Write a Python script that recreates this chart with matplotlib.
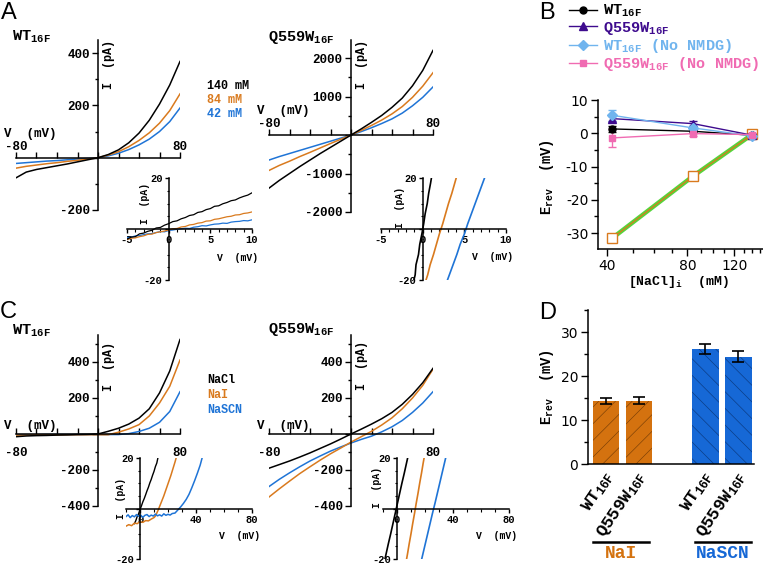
import matplotlib
matplotlib.use('Agg')
import matplotlib.pyplot as plt
from matplotlib.lines import Line2D
from matplotlib.ticker import MultipleLocator, FixedLocator, NullFormatter

W, H = 763, 564

plt.rcParams.update({
    'font.family': 'Liberation Mono',
    'font.weight': 'bold',
    'mathtext.fontset': 'custom',
    'mathtext.rm': 'Liberation Mono:bold',
    'mathtext.it': 'Liberation Mono:bold',
    'mathtext.bf': 'Liberation Mono:bold',
    'axes.unicode_minus': False,
    'axes.linewidth': 1.1,
    'hatch.linewidth': 0.45,
})

BLACK = '#000000'
ORANGE = '#D97A1E'
BLUE = '#1F74D6'
BAR_ORANGE = '#D4720F'
BAR_BLUE = '#1668D6'
PURPLE = '#3E0B8E'
LIGHTBLUE = '#70B4EE'
PINK = '#F06BB2'
GREEN = '#55D43B'

# ramp I-V curves (pA), read every 10 mV
volt = [-80, -70, -60, -50, -40, -30, -20, -10, 0, 10, 20, 30, 40, 50, 60, 70, 80]

wt_140 = [-77, -55, -45, -38, -31, -24, -16, -8, 0, 12, 30, 57, 94, 143, 205, 278, 368]
wt_84 = [-40, -33, -28, -23, -19, -14, -10, -5, 0, 10, 23, 42, 66, 95, 132, 180, 244]
wt_42 = [-22, -19, -16, -13, -11, -8, -5, -3, 0, 7, 17, 31, 49, 71, 100, 138, 190]

q_140 = [-1380, -1180, -1000, -820, -650, -480, -320, -160, 0, 160, 330, 510, 720, 960, 1280, 1680, 2200]
q_84 = [-920, -790, -680, -560, -450, -335, -220, -110, 0, 120, 250, 390, 550, 740, 980, 1270, 1620]
q_42 = [-650, -560, -480, -400, -320, -240, -160, -80, 0, 90, 190, 300, 420, 570, 760, 980, 1250]

wt_nacl = [-15, -11, -9, -8, -6, -5, -3, -2, 0, 15, 32, 55, 88, 140, 228, 350, 525]
wt_nai = [-6, -6, -5, -5, -5, -4, -4, -4, -4, -4, 10, 28, 52, 100, 172, 265, 411]
wt_nascn = [-4, -4, -4, -3, -3, -3, -3, -3, -3, -3, -3, 2, 14, 32, 65, 125, 235]

q_nacl = [-190, -170, -150, -128, -105, -80, -55, -28, 0, 27, 55, 85, 120, 165, 220, 285, 365]
q_nai = [-350, -305, -262, -220, -182, -145, -110, -78, -45, -15, 15, 50, 90, 140, 200, 270, 360]
q_nascn = [-292, -252, -216, -182, -150, -122, -95, -72, -50, -30, -12, 12, 40, 75, 120, 172, 235]

# inset A, WT: noisy traces every 0.5 mV
ins_v = [-5, -4.5, -4, -3.5, -3, -2.5, -2, -1.5, -1, -0.5, 0, 0.5, 1, 1.5, 2, 2.5,
         3, 3.5, 4, 4.5, 5, 5.5, 6, 6.5, 7, 7.5, 8, 8.5, 9, 9.5, 10]
ins_wt_140 = [-4.0, -3.2, -3.0, -1.9, -1.6, -0.9, -0.5, 0.4, 0.6, 1.5, 2.1, 2.9, 3.2, 4.0, 4.5, 5.3,
              5.6, 6.5, 6.8, 7.6, 8.0, 8.9, 9.1, 9.9, 10.4, 11.1, 11.4, 12.2, 12.8, 13.3, 14.2]
ins_wt_84 = [-4.2, -3.6, -3.5, -3.0, -2.7, -2.1, -2.0, -1.4, -1.1, -0.8, -0.4, 0.1, 0.2, 0.8, 1.0, 1.6,
             1.8, 2.3, 2.5, 3.1, 3.2, 3.8, 4.0, 4.4, 4.8, 5.0, 5.5, 5.6, 6.1, 6.3, 6.7]
ins_wt_42 = [-3.4, -3.2, -2.7, -2.6, -2.2, -1.9, -1.8, -1.4, -1.0, -1.1, -0.6, -0.4, -0.1, 0.1, 0.3, 0.2,
             0.7, 0.9, 1.3, 1.2, 1.6, 1.9, 2.0, 2.3, 2.2, 2.7, 2.9, 3.0, 3.3, 3.2, 3.6]

# inset A, Q559W: steep traces, voltage read at fixed currents
steep_i = [-22, -18, -14, -10, -6, -2, 2, 6, 10, 14, 18, 22]
ins_q_140 = [-1.2, -0.9, -0.8, -0.5, -0.35, -0.1, 0.12, 0.3, 0.55, 0.72, 0.95, 1.15]
ins_q_84 = [0.2, 0.6, 0.9, 1.3, 1.65, 2.0, 2.4, 2.75, 3.1, 3.5, 3.85, 4.2]
ins_q_42 = [2.75, 3.2, 3.65, 4.1, 4.5, 5.0, 5.4, 5.85, 6.3, 6.75, 7.2, 7.65]

# inset C, WT
insc_nacl_v = [-4, -3, -2, -1, 0, 1, 2, 3, 4, 5, 6, 7, 8, 9, 10, 11, 12, 13]
insc_nacl_i = [-6.0, -4.8, -3.2, -2.1, -0.4, 1.0, 2.6, 3.9, 5.4, 7.0, 8.4, 10.1, 11.5, 13.2, 14.7, 16.6, 18.0, 20.6]
insc_nai_v = [-10, -8, -6, -4, -2, 0, 2, 4, 6, 8, 10, 11, 12, 13, 14, 15, 16, 17, 18,
              19, 20, 21, 22, 23, 24, 25, 26]
insc_nai_i = [-7.0, -6.4, -6.8, -5.8, -6.0, -5.2, -5.5, -4.8, -4.9, -4.2, -3.6, -3.0, -1.8, -0.6, 0.8,
              2.2, 3.6, 5.0, 6.6, 8.2, 9.8, 11.4, 13.0, 14.8, 16.6, 18.4, 20.4]
insc_nascn_v = [-10, -8.5, -7, -5.5, -4, -2.5, -1, 0.5, 2, 3.5, 5, 6.5, 8, 9.5, 11, 12.5, 14, 15.5, 17,
                18.5, 20, 21.5, 23, 25, 27, 29, 31, 33, 35, 37, 39, 41, 43, 44.5]
insc_nascn_i = [-3.2, -2.5, -3.6, -2.8, -3.3, -2.4, -3.1, -2.6, -3.5, -2.7, -2.4, -3.2, -2.6, -3.0, -2.2,
                -2.9, -2.5, -3.0, -2.1, -2.7, -2.3, -2.6, -2.0, -1.8, -0.6, 0.6, 2.0, 3.6, 5.6, 8.2,
                11.0, 14.0, 17.2, 20.3]

# inset C, Q559W
insc_q_nacl = [-9.4, -7.8, -6.2, -4.5, -2.9, -1.3, 0.3, 1.9, 3.5, 5.2, 6.8, 8.4]
insc_q_nai = [6.2, 7.5, 8.7, 10.0, 11.2, 12.5, 13.7, 15.0, 16.2, 17.5, 18.7, 20.0]
insc_q_nascn = [16.8, 18.5, 20.2, 21.9, 23.6, 25.3, 27.1, 28.8, 30.5, 32.2, 33.9, 35.6]

# B: reversal potential vs internal NaCl
conc = [42, 84, 140]
erev_wt = [1.3, 0.6, -0.6]
erev_wt_err = [0.9, 0.5, 0.4]
erev_q = [4.4, 2.9, -0.6]
erev_q_err = [0.8, 0.7, 0.4]
erev_wt_nonmdg = [5.4, 1.6, -0.8]
erev_wt_nonmdg_err = [1.7, 0.9, 0.4]
erev_q_nonmdg = [-1.4, -0.1, -0.4]
erev_q_nonmdg_err = [2.7, 0.8, 0.4]
erev_nernst = [-31.5, -12.9, -0.3]

# D: reversal potential, NaI / NaSCN
bar_labels = ['WT$_{16F}$', 'Q559W$_{16F}$', 'WT$_{16F}$', 'Q559W$_{16F}$']
bar_vals = [14.3, 14.4, 26.1, 24.4]
bar_errs = [0.65, 0.85, 1.1, 1.25]

fig = plt.figure(figsize=(W / 100, H / 100), dpi=100)


def px_axes(left, top, right, bottom):
    return fig.add_axes([left / W, 1 - bottom / H, (right - left) / W, (bottom - top) / H])


def fig_text(x, y, s, **kw):
    return fig.text(x / W, 1 - y / H, s, **kw)


def cross(ax, xlim, ylim):
    ax.set_xlim(*xlim)
    ax.set_ylim(*ylim)
    ax.patch.set_visible(False)
    ax.spines['top'].set_visible(False)
    ax.spines['right'].set_visible(False)
    ax.spines['left'].set_position(('data', 0))
    ax.spines['bottom'].set_position(('data', 0))


def iv_main(ax, ylim, ymajor, yminor, labels_above, ylab_dy):
    cross(ax, (-80, 80), ylim)
    ax.set_xticks(range(-80, 81, 20))
    ax.set_xticklabels([])
    ax.tick_params(axis='x', direction='in', length=4, width=1)
    ax.set_yticks(ymajor)
    ax.set_yticklabels(['' if t == 0 else str(t) for t in ymajor])
    ax.yaxis.set_minor_locator(MultipleLocator(yminor))
    ax.tick_params(axis='y', which='major', direction='out', length=4, width=1, labelsize=9, pad=2)
    ax.tick_params(axis='y', which='minor', direction='out', length=2.5, width=1)
    dy, va = (3.5, 'bottom') if labels_above else (-9, 'top')
    for x in (-80, 80):
        ax.annotate(str(x), (x, 0), xytext=(0, dy), textcoords='offset points',
                    ha='center', va=va, fontsize=9)
    ax.annotate('V  (mV)', (-80, 0), xytext=(-8.5, 13 if labels_above else 1.5),
                textcoords='offset points', ha='left', va='bottom', fontsize=9)
    ax.annotate('I  (pA)', (0, ylim[1]), xytext=(8, ylab_dy), textcoords='offset points',
                rotation=90, ha='center', va='top', fontsize=8.5)


def iv_inset(ax, xlim, xmajor, xminor, ylab_xy, vlab_xy):
    cross(ax, xlim, (-20, 20))
    ax.set_xticks(xmajor)
    ax.set_xticklabels([str(t) for t in xmajor])
    ax.xaxis.set_minor_locator(MultipleLocator(xminor))
    ax.set_yticks([-20, 0, 20])
    ax.set_yticklabels(['-20', '', '20'])
    ax.yaxis.set_minor_locator(MultipleLocator(5))
    ax.tick_params(which='major', direction='out', length=3, width=1, labelsize=7.5, pad=1.5)
    ax.tick_params(which='minor', direction='out', length=1.8, width=0.8)
    ax.annotate('I  (pA)', (0, 20), xytext=ylab_xy, textcoords='offset points',
                rotation=90, ha='center', va='top', fontsize=7)
    ax.annotate('V  (mV)', (xlim[1], 0), xytext=vlab_xy, textcoords='offset points',
                ha='right', va='center', fontsize=7)


lw_iv = 1.1

# ---- A, WT
ax = px_axes(16, 40, 180, 210)
iv_main(ax, (-200, 450), [-200, 0, 200, 400], 100, True, 0)
for y, c in [(wt_42, BLUE), (wt_84, ORANGE), (wt_140, BLACK)]:
    ax.plot(volt, y, color=c, lw=lw_iv)

ax = px_axes(127, 178, 252, 280)
iv_inset(ax, (-5, 10), [-5, 0, 5, 10], 1, (-17, -3.5), (4.5, -21))
for y, c in [(ins_wt_42, BLUE), (ins_wt_84, ORANGE), (ins_wt_140, BLACK)]:
    ax.plot(ins_v, y, color=c, lw=0.9)

# ---- A, Q559W
ax = px_axes(269, 40, 433, 212)
iv_main(ax, (-2000, 2470), [-2000, -1000, 0, 1000, 2000], 500, True, 0)
for y, c in [(q_42, BLUE), (q_84, ORANGE), (q_140, BLACK)]:
    ax.plot(volt, y, color=c, lw=lw_iv)

ax = px_axes(381, 178, 506, 280)
iv_inset(ax, (-5, 10), [-5, 0, 5, 10], 1, (-16, -6.5), (5, -20))
for v, c in [(ins_q_42, BLUE), (ins_q_84, ORANGE), (ins_q_140, BLACK)]:
    ax.plot(v, steep_i, color=c, lw=1.2)

fig_text(12, 37, 'WT$_{16F}$', fontsize=11, va='center')
fig_text(268, 37, 'Q559W$_{16F}$', fontsize=11, va='center')
for y, s, c in [(86, '140 mM', BLACK), (100, '84 mM', ORANGE), (114, '42 mM', BLUE)]:
    fig_text(207, y, s, color=c, fontsize=8.5, va='center')

# ---- C, WT
ax = px_axes(16, 335, 180, 506)
iv_main(ax, (-400, 550), [-400, -200, 0, 200, 400], 100, False, -5)
for y, c in [(wt_nascn, BLUE), (wt_nai, ORANGE), (wt_nacl, BLACK)]:
    ax.plot(volt, y, color=c, lw=lw_iv)

ax = px_axes(126, 458, 252, 559)
iv_inset(ax, (-10, 80), [0, 40, 80], 10, (-14, -14), (6, -20))
ax.plot(insc_nacl_v, insc_nacl_i, color=BLACK, lw=1.0)
ax.plot(insc_nai_v, insc_nai_i, color=ORANGE, lw=1.1)
ax.plot(insc_nascn_v, insc_nascn_i, color=BLUE, lw=1.1)

# ---- C, Q559W
ax = px_axes(269, 335, 433, 506)
iv_main(ax, (-400, 550), [-400, -200, 0, 200, 400], 100, False, -4)
for y, c in [(q_nascn, BLUE), (q_nai, ORANGE), (q_nacl, BLACK)]:
    ax.plot(volt, y, color=c, lw=lw_iv)

ax = px_axes(383, 458, 509, 559)
iv_inset(ax, (-10, 80), [0, 40, 80], 10, (-14.5, -6.5), (6, -20))
for v, c in [(insc_q_nascn, BLUE), (insc_q_nai, ORANGE), (insc_q_nacl, BLACK)]:
    ax.plot(v, steep_i, color=c, lw=1.2)

fig_text(12, 331, 'WT$_{16F}$', fontsize=11, va='center')
fig_text(268, 329, 'Q559W$_{16F}$', fontsize=11, va='center')
for y, s, c in [(380, 'NaCl', BLACK), (395, 'NaI', ORANGE), (410, 'NaSCN', BLUE)]:
    fig_text(207, y, s, color=c, fontsize=8.5, va='center')

# ---- B
axB = px_axes(598, 100, 763, 249)
axB.set_xscale('log')
axB.plot(conc, erev_nernst, color=GREEN, lw=3.2, solid_capstyle='butt', zorder=1)
axB.plot(conc, erev_nernst, color=ORANGE, lw=0.9, marker='s', ms=7, mfc='white',
         mec=ORANGE, mew=1, zorder=2)
series = [
    (erev_wt, erev_wt_err, BLACK, 'o', 5, 'WT$_{16F}$'),
    (erev_q, erev_q_err, PURPLE, '^', 6, 'Q559W$_{16F}$'),
    (erev_wt_nonmdg, erev_wt_nonmdg_err, LIGHTBLUE, 'D', 5.5, 'WT$_{16F}$ (No NMDG)'),
    (erev_q_nonmdg, erev_q_nonmdg_err, PINK, 's', 5, 'Q559W$_{16F}$ (No NMDG)'),
]
for vals, errs, col, mk, ms, lab in series:
    axB.errorbar(conc, vals, yerr=errs, fmt='none', ecolor=col, elinewidth=1, capsize=3, zorder=3)
    axB.plot(conc, vals, color=col, marker=mk, ms=ms, lw=1, label=lab, zorder=4)
axB.set_xlim(37.1, 153.4)
axB.set_ylim(-34.8, 10)
axB.spines['top'].set_visible(False)
axB.spines['right'].set_visible(False)
axB.xaxis.set_major_locator(FixedLocator([40, 80, 120]))
axB.set_xticklabels(['40', '80', '120'])
axB.xaxis.set_minor_locator(FixedLocator([50, 60, 70, 90, 100, 110, 130, 140, 150]))
axB.xaxis.set_minor_formatter(NullFormatter())
axB.set_yticks([-30, -20, -10, 0, 10])
axB.yaxis.set_minor_locator(MultipleLocator(5))
axB.tick_params(which='major', direction='out', length=5, width=1, labelsize=10, pad=2)
axB.tick_params(which='minor', direction='out', length=3, width=1)
for lbl in axB.get_xticklabels() + axB.get_yticklabels():
    lbl.set_fontfamily('DejaVu Sans')
    lbl.set_fontweight('normal')
fig.legend(*axB.get_legend_handles_labels(), loc='upper left',
           bbox_to_anchor=(569 / W, 1 - 3 / H), frameon=False, fontsize=11,
           handlelength=1.8, handletextpad=0.4, labelspacing=0.02, borderpad=0,
           borderaxespad=0, labelcolor='linecolor')
fig_text(547, 177, 'E$_{rev}$  (mV)', fontsize=10, rotation=90, ha='center', va='center')
fig_text(679, 282, '[NaCl]$_{i}$  (mM)', fontsize=9.5, ha='center', va='center')

# ---- D
axD = px_axes(588, 310, 754, 464)
bar_pos = [0, 1, 3, 4]
bar_cols = [BAR_ORANGE, BAR_ORANGE, BAR_BLUE, BAR_BLUE]
bar_edges = ['#7a3f06', '#7a3f06', '#0b3a80', '#0b3a80']
bar_hatch = ['//', '//', '\\\\', '\\\\']
bars = axD.bar(bar_pos, bar_vals, width=0.8, color=bar_cols, linewidth=0)
for b, ec, ht in zip(bars, bar_edges, bar_hatch):
    b.set_edgecolor(ec)
    b.set_hatch(ht)
axD.errorbar(bar_pos, bar_vals, yerr=bar_errs, fmt='none', ecolor='black',
             elinewidth=1.2, capsize=4, capthick=1.2)
axD.set_xlim(-0.54, 4.47)
axD.set_ylim(0, 35)
axD.spines['top'].set_visible(False)
axD.spines['right'].set_visible(False)
axD.set_yticks([0, 10, 20, 30])
axD.yaxis.set_minor_locator(MultipleLocator(5))
axD.tick_params(axis='y', which='major', direction='out', length=5, width=1, labelsize=10, pad=2)
axD.tick_params(axis='y', which='minor', direction='out', length=3, width=1)
for lbl in axD.get_yticklabels():
    lbl.set_fontfamily('DejaVu Sans')
    lbl.set_fontweight('normal')
axD.set_xticks([p + 0.12 for p in bar_pos])
axD.set_xticklabels(bar_labels, rotation=56, ha='right', va='center',
                    rotation_mode='anchor', fontsize=12.5)
axD.tick_params(axis='x', length=0, pad=7)
fig_text(547, 387, 'E$_{rev}$  (mV)', fontsize=10, rotation=90, ha='center', va='center')
fig.add_artist(Line2D([593 / W, 649 / W], [1 - 542 / H] * 2, color='black', lw=1.8))
fig.add_artist(Line2D([695 / W, 751 / W], [1 - 542 / H] * 2, color='black', lw=1.8))
fig_text(621, 553, 'NaI', color=BAR_ORANGE, fontsize=13, ha='center', va='center')
fig_text(723, 553, 'NaSCN', color=BAR_BLUE, fontsize=13, ha='center', va='center')

# panel letters
for x, y, s in [(1, 2, 'A'), (539, 2, 'B'), (0, 301, 'C'), (539, 302, 'D')]:
    fig_text(x, y, s, fontsize=17, family='Liberation Sans', weight='normal', va='top')

fig.savefig('out.png', dpi=100)
